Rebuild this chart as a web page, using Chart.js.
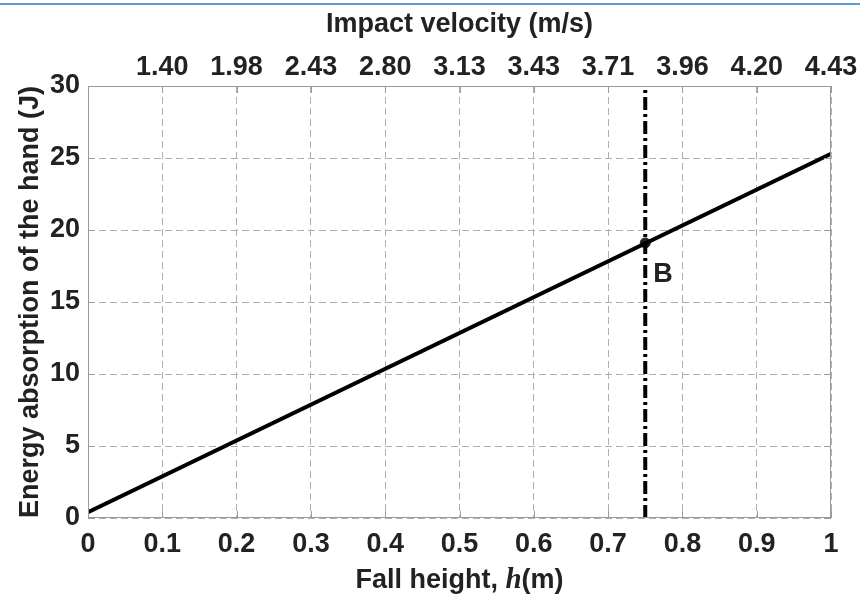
<!DOCTYPE html>
<html>
<head>
<meta charset="utf-8">
<script src="https://cdn.jsdelivr.net/npm/chart.js@4"></script>
<style>
  body { margin:0; background:#fff; }
  #wrap { position:relative; width:860px; height:598px; }
  #topline { position:absolute; left:0; top:3px; width:860px; height:2px; background:#5b9bd5; }
</style>
</head>
<body>
<div id="wrap">
  <div id="topline"></div>
  <canvas id="miGrafica" width="860" height="598"></canvas>
</div>
<script>
// data
var alturas = [0, 1];
var energia = [0.4, 25.3];
var alturaB = 0.75;
var energiaB = 19.1;
var lineaB_y = [0, 30];
var velocidades = ['', '1.40', '1.98', '2.43', '2.80', '3.13', '3.43', '3.71', '3.96', '4.20', '4.43'];

var fuente = "'Liberation Sans', Arial, sans-serif";
var gris = '#9a9a9a';
var tam = 27;

var lineaDatos = alturas.map(function (h, i) { return {x: h, y: energia[i]}; });
var lineaVertical = lineaB_y.map(function (e) { return {x: alturaB, y: e}; });

var pluginExtras = {
  id: 'extras',
  afterDraw: function (chart) {
    var ctx = chart.ctx;
    var a = chart.chartArea;
    var sx = chart.scales.x, sy = chart.scales.y;
    ctx.save();
    // box
    ctx.strokeStyle = gris;
    ctx.lineWidth = 1;
    ctx.setLineDash([]);
    ctx.strokeRect(a.left + 0.5, a.top + 0.5, a.right - a.left - 1, a.bottom - a.top - 1);
    // inward ticks
    ctx.beginPath();
    sx.ticks.forEach(function (t) {
      var px = Math.round(sx.getPixelForValue(t.value)) + 0.5;
      ctx.moveTo(px, a.bottom); ctx.lineTo(px, a.bottom - 7);
      ctx.moveTo(px, a.top); ctx.lineTo(px, a.top + 7);
    });
    sy.ticks.forEach(function (t) {
      var py = Math.round(sy.getPixelForValue(t.value)) + 0.5;
      ctx.moveTo(a.left, py); ctx.lineTo(a.left + 7, py);
      ctx.moveTo(a.right, py); ctx.lineTo(a.right - 7, py);
    });
    ctx.stroke();
    // label B
    ctx.fillStyle = '#222';
    ctx.font = 'bold ' + tam + 'px ' + fuente;
    ctx.textAlign = 'left';
    ctx.textBaseline = 'middle';
    ctx.fillText('B', sx.getPixelForValue(alturaB) + 8, sy.getPixelForValue(energiaB) + 32);
    // bottom axis title with italic h
    var partes = [
      {t: 'Fall height, ', f: 'bold ' + tam + 'px ' + fuente},
      {t: 'h', f: 'italic bold 29px "Liberation Serif", "Times New Roman", serif'},
      {t: '(m)', f: 'bold ' + tam + 'px ' + fuente}
    ];
    var total = 0;
    partes.forEach(function (p) { ctx.font = p.f; p.w = ctx.measureText(p.t).width; total += p.w; });
    var x0 = (a.left + a.right) / 2 - total / 2;
    var yT = 581;
    partes.forEach(function (p) { ctx.font = p.f; ctx.fillText(p.t, x0, yT); x0 += p.w; });
    ctx.restore();
  }
};

var miCanvas = document.getElementById('miGrafica').getContext('2d');

var grafica = new Chart(miCanvas, {
  type: 'scatter',
  data: {
    datasets: [
      {
        label: 'Energy',
        data: lineaDatos,
        showLine: true,
        borderColor: '#000',
        backgroundColor: '#000',
        borderWidth: 4,
        pointRadius: 0
      },
      {
        label: 'h = 0.75',
        data: lineaVertical,
        showLine: true,
        borderColor: '#000',
        borderWidth: 4,
        borderDash: [13, 4, 3, 4],
        pointRadius: 0
      },
      {
        label: 'B',
        data: [{x: alturaB, y: energiaB}],
        pointRadius: 5,
        pointBackgroundColor: '#222',
        pointBorderColor: '#222'
      }
    ]
  },
  plugins: [pluginExtras],
  options: {
    responsive: false,
    animation: false,
    layout: { padding: { left: 0, right: 29, top: 0, bottom: 0 } },
    plugins: { legend: { display: false }, tooltip: { enabled: false } },
    scales: {
      x: {
        type: 'linear', position: 'bottom', min: 0, max: 1,
        afterFit: function (s) { s.height = 80; },
        ticks: { stepSize: 0.1, autoSkip: false, maxRotation: 0, padding: 10, color: '#222',
                 font: { family: fuente, size: tam, weight: 'bold' },
                 callback: function (v) { return String(Math.round(v * 10) / 10); } },
        grid: { color: '#b0b0b0', lineWidth: 1, drawTicks: false },
        border: { display: false, dash: [7, 4] }
      },
      x2: {
        type: 'linear', position: 'top', min: 0, max: 1,
        afterFit: function (s) { s.height = 86; },
        ticks: { stepSize: 0.1, autoSkip: false, maxRotation: 0, padding: 2, color: '#222',
                 font: { family: fuente, size: tam, weight: 'bold' },
                 callback: function (v, i) { return velocidades[i]; } },
        grid: { display: false, drawTicks: false },
        border: { display: false },
        title: { display: true, text: 'Impact velocity (m/s)', color: '#222', padding: { top: 8, bottom: 4 },
                 font: { family: fuente, size: tam, weight: 'bold' } }
      },
      y: {
        type: 'linear', min: 0, max: 30,
        afterFit: function (s) { s.width = 88; },
        ticks: { stepSize: 5, padding: 8, color: '#222',
                 font: { family: fuente, size: tam, weight: 'bold' } },
        grid: { color: '#b0b0b0', lineWidth: 1, drawTicks: false },
        border: { display: false, dash: [7, 4] },
        title: { display: true, text: 'Energy absorption of the hand (J)', color: '#222', padding: { top: 14, bottom: 2 },
                 font: { family: fuente, size: tam, weight: 'bold' } }
      }
    }
  }
});
</script>
</body>
</html>
